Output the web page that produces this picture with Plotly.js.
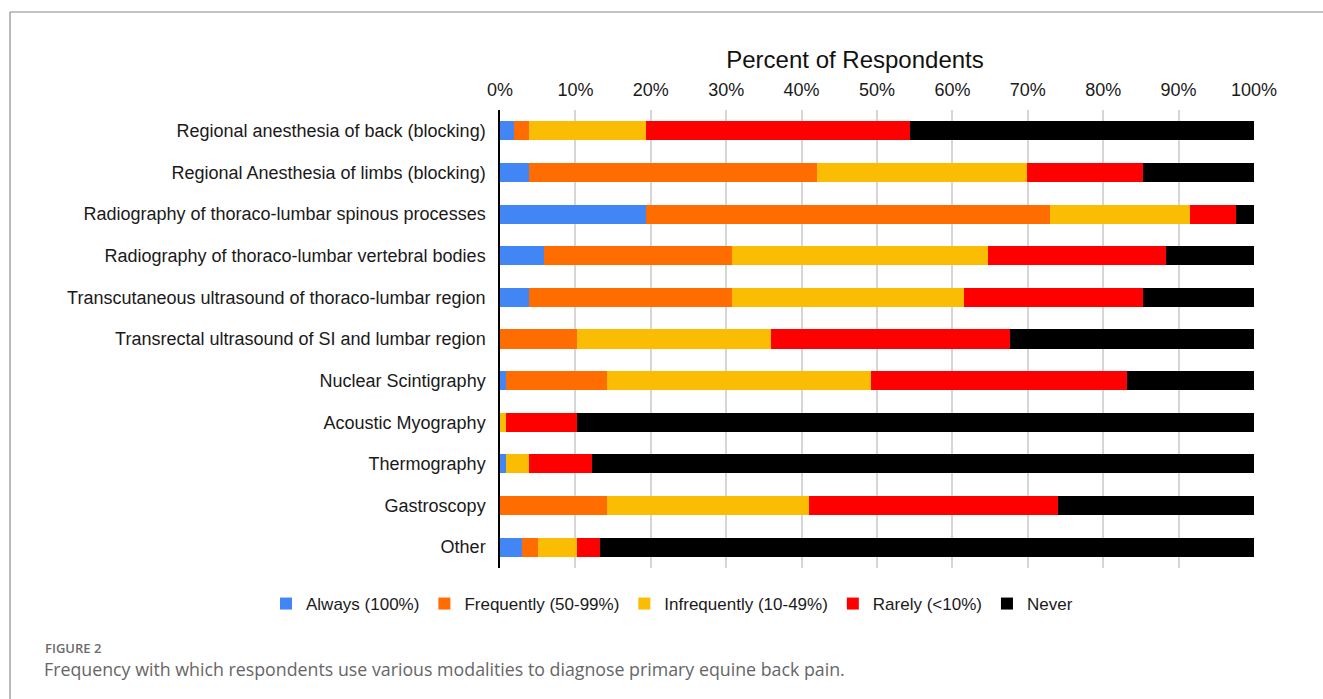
<!DOCTYPE html>
<html>
<head>
<meta charset="utf-8">
<script src="https://cdn.plot.ly/plotly-3.0.1.min.js"></script>
<style>
  html, body { margin: 0; padding: 0; background: #fff; }
  #chart { width: 1323px; height: 699px; }
</style>
</head>
<body>
<div id="chart"></div>
<script>
const categories = [
  "Regional anesthesia of back (blocking)",
  "Regional Anesthesia of limbs (blocking)",
  "Radiography of thoraco-lumbar spinous processes",
  "Radiography of thoraco-lumbar vertebral bodies",
  "Transcutaneous ultrasound of thoraco-lumbar region",
  "Transrectal ultrasound of SI and lumbar region",
  "Nuclear Scintigraphy",
  "Acoustic Myography",
  "Thermography",
  "Gastroscopy",
  "Other"
];
const seriesNames = ["Always (100%)", "Frequently (50-99%)", "Infrequently (10-49%)", "Rarely (<10%)", "Never"];
const always       = [1.8, 3.9, 19.4, 5.9, 3.9, 0, 0.8, 0, 0.8, 0, 2.9];
const frequently   = [2.1, 38.1, 53.5, 24.9, 26.9, 10.2, 13.4, 0, 0, 14.2, 2.1];
const infrequently = [15.5, 27.9, 18.6, 33.9, 30.8, 25.7, 35.0, 0.8, 3.1, 26.8, 5.2];
const rarely       = [35.0, 15.4, 6.1, 23.6, 23.7, 31.8, 34.0, 9.4, 8.3, 33.0, 3.0];
const never        = [45.6, 14.7, 2.4, 11.7, 14.7, 32.3, 16.8, 89.8, 87.8, 26.0, 86.8];
const tickVals = [0, 10, 20, 30, 40, 50, 60, 70, 80, 90, 100];
const tickText = ["0%", "10%", "20%", "30%", "40%", "50%", "60%", "70%", "80%", "90%", "100%"];
const colors = ["#4285F4", "#FF6D01", "#FBBC04", "#FF0000", "#000000"];

const values = [always, frequently, infrequently, rarely, never];
const traces = values.map((v, i) => ({
  type: "bar",
  orientation: "h",
  name: seriesNames[i],
  y: categories,
  x: v,
  marker: { color: colors[i], line: { width: 0 } },
  hoverinfo: "x+y+name"
}));

const W = 1323, H = 699;
const L = 500, R = W - 1254, T = 110, B = H - 568;
const PW = W - L - R, PH = 568 - T;

const layout = {
  width: W, height: H,
  margin: { l: L, r: R, t: T, b: B, pad: 0 },
  barmode: "stack",
  bargap: 0.54,
  paper_bgcolor: "#ffffff",
  plot_bgcolor: "#ffffff",
  font: { family: "Liberation Sans, Arial, sans-serif", size: 18, color: "#1a1a1a" },
  title: {
    text: "Percent of Respondents",
    font: { family: "Liberation Sans, Arial, sans-serif", size: 24, color: "#111" },
    xref: "paper", x: (855 - L) / PW, xanchor: "center",
    yref: "container", y: 1 - 60 / H, yanchor: "middle"
  },
  xaxis: {
    side: "top",
    range: [0, 100],
    tickvals: tickVals,
    ticktext: tickText,
    showgrid: true,
    gridcolor: "#d6d6d6",
    gridwidth: 1.5,
    zeroline: false,
    showline: false,
    ticks: "outside",
    ticklen: 6,
    tickcolor: "rgba(0,0,0,0)",
    tickfont: { size: 18, color: "#1a1a1a" },
    fixedrange: true
  },
  yaxis: {
    autorange: "reversed",
    showgrid: false,
    zeroline: false,
    showline: true,
    linecolor: "#000",
    linewidth: 1.5,
    ticks: "outside",
    ticklen: 9,
    tickcolor: "rgba(0,0,0,0)",
    tickfont: { size: 18, color: "#1a1a1a" },
    fixedrange: true
  },
  showlegend: true,
  legend: {
    orientation: "h",
    xref: "paper", yref: "paper",
    x: (266 - L) / PW, xanchor: "left",
    y: (568 - 604) / PH, yanchor: "middle",
    font: { size: 17, color: "#1a1a1a" },
    traceorder: "normal",
    itemwidth: 30,
    bgcolor: "rgba(0,0,0,0)"
  },
  shapes: [
    { type: "line", xref: "paper", yref: "paper", x0: (10 - L) / PW, x1: (W - L) / PW,
      y0: (568 - 12) / PH, y1: (568 - 12) / PH, line: { color: "#8a8a8a", width: 1.2 } },
    { type: "line", xref: "paper", yref: "paper", x0: (10 - L) / PW, x1: (10 - L) / PW,
      y0: (568 - 12) / PH, y1: (568 - H) / PH, line: { color: "#8a8a8a", width: 1.2 } }
  ],
  annotations: [
    { xref: "paper", yref: "paper", x: (43 - L) / PW, xanchor: "left",
      y: (568 - 648) / PH, yanchor: "middle", showarrow: false,
      text: "FIGURE 2",
      font: { family: "Open Sans, Noto Sans, sans-serif", size: 13, weight: 600, color: "#6b6b6b" } },
    { xref: "paper", yref: "paper", x: (42 - L) / PW, xanchor: "left",
      y: (568 - 669) / PH, yanchor: "middle", showarrow: false,
      text: "Frequency with which respondents use various modalities to diagnose primary equine back pain.",
      font: { family: "Open Sans, Noto Sans, sans-serif", size: 17.8, color: "#666" } }
  ]
};

Plotly.newPlot("chart", traces, layout, { displayModeBar: false, staticPlot: false });
</script>
</body>
</html>
